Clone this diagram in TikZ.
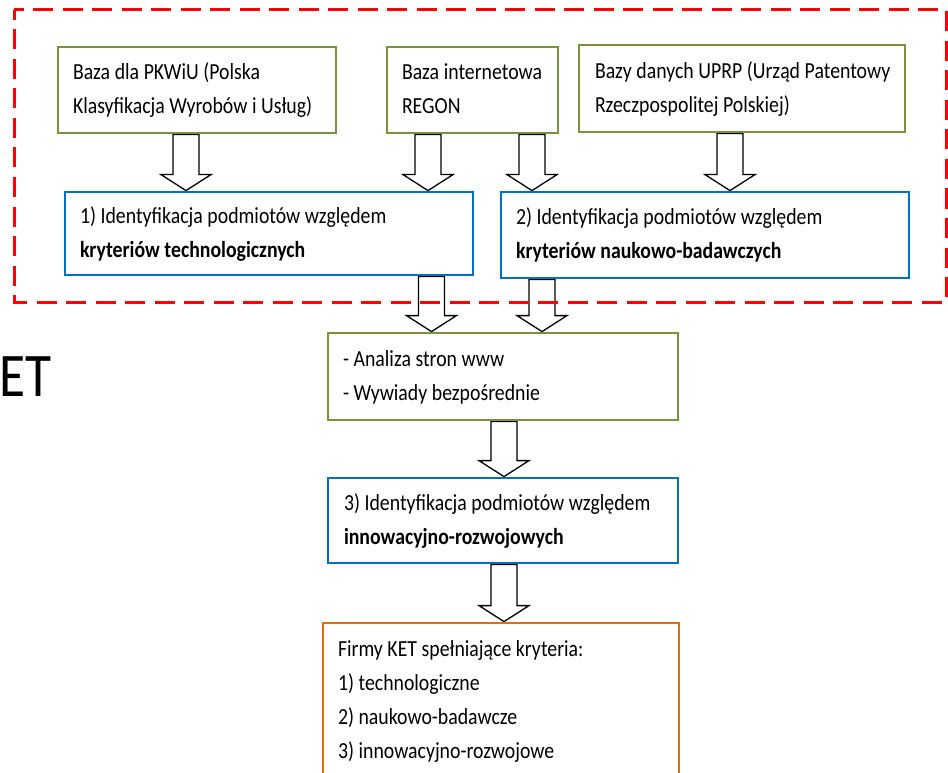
\documentclass[tikz,border=0pt]{standalone}
\usepackage{fontspec}
\setmainfont[FakeStretch=0.86]{Carlito}
\usetikzlibrary{calc,backgrounds}

\definecolor{boxgreen}{HTML}{77933C}
\definecolor{boxblue}{HTML}{0070C0}
\definecolor{boxorange}{HTML}{E46C0A}
\definecolor{framered}{HTML}{FF0000}

% lines of a box, left aligned, never re-broken
\newcommand\boxlines[1]{\begin{tabular}{@{}l@{}}#1\end{tabular}}

\tikzset{
  box/.style={draw, line width=2.8pt, fill=white,
    inner xsep=15pt, inner ysep=0pt,
    execute at begin node={\raggedright\spaceskip=0.2em\relax},
    font=\fontsize{23}{34}\selectfont},
  gbox/.style={box, draw=boxgreen},
  bbox/.style={box, draw=boxblue},
  obox/.style={box, draw=boxorange},
  blockarr/.style={draw=black, fill=white, line width=1.3pt, line join=miter},
  redframe/.style={draw=framered, line width=3pt,
    dash pattern=on 20pt off 9.5pt, dash phase=10pt},
}

% hollow block arrow from the bottom of #1 (shifted by #2) down to the top of #3
\newcommand\blockarrow[3]{%
  \draw[blockarr] let \p1=($(#1.south)+(#2,0)$), \p2=(#3.north) in
    (\x1-13pt,\y1) -- (\x1-13pt,\y2+16pt) -- (\x1-25pt,\y2+16pt) -- (\x1,\y2)
    -- (\x1+25pt,\y2+16pt) -- (\x1+13pt,\y2+16pt) -- (\x1+13pt,\y1) -- cycle;}

\begin{document}
\begin{tikzpicture}[x=1pt,y=-1pt]
\useasboundingbox (0,0) rectangle (948,773);
\clip (0,0) rectangle (948,773);

% source databases
\node[gbox, minimum width=278pt, minimum height=86pt, text width=248pt] (pkwiu) at (197,90)
  {\boxlines{Baza dla PKWiU (Polska\\Klasyfikacja Wyrobów i Usług)}};
\node[gbox, minimum width=171pt, minimum height=86pt, text width=141pt] (regon) at (472.5,90)
  {\boxlines{Baza internetowa\\REGON}};
\node[gbox, minimum width=326pt, minimum height=87pt, text width=294pt, inner xsep=16pt] (uprp) at (742,88.5)
  {\boxlines{Bazy danych UPRP (Urząd Patentowy\\Rzeczpospolitej Polskiej)}};

% identification steps 1 and 2
\node[bbox, minimum width=408pt, minimum height=83pt, text width=378pt] (step1) at (269,233.5)
  {\boxlines{1) Identyfikacja podmiotów względem\\\textbf{kryteriów technologicznych}}};
\node[bbox, minimum width=408pt, minimum height=86pt, text width=378pt] (step2) at (705,235)
  {\boxlines{2) Identyfikacja podmiotów względem\\\textbf{kryteriów naukowo-badawczych}}};

% web analysis and interviews
\node[gbox, minimum width=350pt, minimum height=87pt, text width=320pt] (web) at (503,376.5)
  {\boxlines{- Analiza stron www\\- Wywiady bezpośrednie}};

% identification step 3
\node[bbox, minimum width=350pt, minimum height=85pt, text width=318pt, inner xsep=16pt] (step3) at (503,520.5)
  {\boxlines{3) Identyfikacja podmiotów względem\\\textbf{innowacyjno-rozwojowych}}};

% result
\node[obox, minimum width=356pt, minimum height=155pt, text width=326pt] (result) at (501,700.5)
  {\boxlines{Firmy KET spełniające kryteria:\\1) technologiczne\\2) naukowo-badawcze\\3) innowacyjno-rozwojowe}};

% partly visible title on the left
\node[font=\fontsize{62}{62}\selectfont, anchor=base east, inner sep=0pt] (ket) at (52,396) {ET};

% connectors
\begin{scope}[on background layer]
  \blockarrow{pkwiu}{-11}{step1}
  \blockarrow{regon}{-44.5}{step1}
  \blockarrow{regon}{59.5}{step2}
  \blockarrow{uprp}{-12}{step2}
  \blockarrow{step1}{162.5}{web}
  \blockarrow{step2}{-163}{web}
  \blockarrow{web}{1}{step3}
  \blockarrow{step3}{1}{result}
\end{scope}

% dashed frame around the database stage
\draw[redframe] (14,10) rectangle (946,302);
\end{tikzpicture}
\end{document}
